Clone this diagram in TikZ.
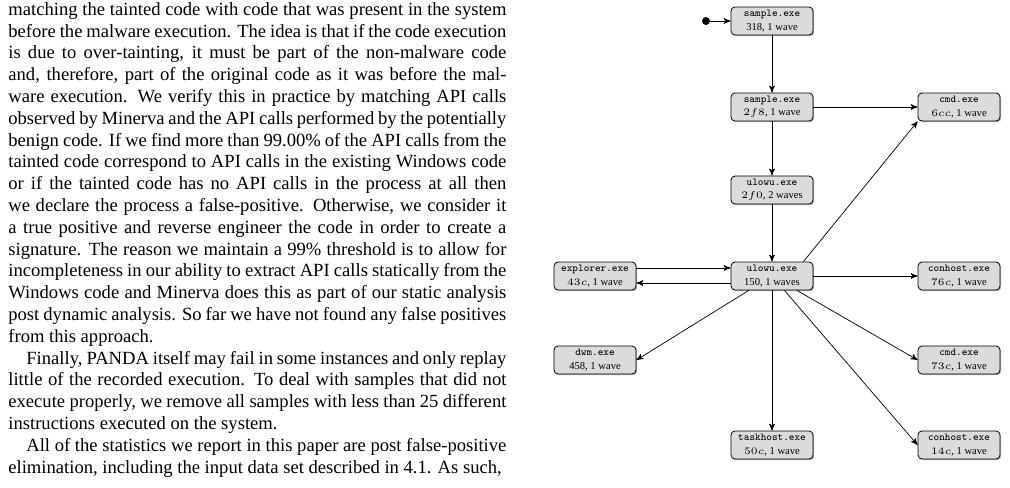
\documentclass[tikz,border=0pt]{standalone}
\usepackage{amsmath}
\usepackage{fontspec}
\setmainfont{Liberation Serif}
\usepackage{tikz}
\usetikzlibrary{positioning,shapes,shadows,arrows}

\begin{document}
\begin{tikzpicture}[x=0.5pt,y=-0.5pt]
\tikzstyle{proc}=[draw=black,rounded corners=2pt,fill=gray!28,drop shadow={shadow xshift=0.6pt,shadow yshift=-0.6pt,opacity=0.6},
  minimum width=41pt,minimum height=14pt,inner sep=0.5pt,align=center,font=\fontsize{5.3}{6.7}\selectfont]
\tikzstyle{edge}=[->,>=stealth',line width=0.35pt]
\clip (0,0) rectangle (1010,487);
% text column
\node [anchor=north west,inner sep=0pt,text width=249pt,align=justify,font=\fontsize{9.3}{10.9}\selectfont] (body) at (8,2) {%
matching the tainted code with code that was present in the system\linebreak
before the malware execution. The idea is that if the code execution\linebreak
is due to over-tainting, it must be part of the non-malware code\linebreak
and, therefore, part of the original code as it was before the mal-\linebreak
ware execution. We verify this in practice by matching API calls\linebreak
observed by Minerva and the API calls performed by the potentially\linebreak
benign code. If we find more than 99.00\% of the API calls from the\linebreak
tainted code correspond to API calls in the existing Windows code\linebreak
or if the tainted code has no API calls in the process at all then\linebreak
we declare the process a false-positive. Otherwise, we consider it\linebreak
a true positive and reverse engineer the code in order to create a\linebreak
signature. The reason we maintain a 99\% threshold is to allow for\linebreak
incompleteness in our ability to extract API calls statically from the\linebreak
Windows code and Minerva does this as part of our static analysis\linebreak
post dynamic analysis. So far we have not found any false positives\linebreak
from this approach.\par
\hspace*{9pt}Finally, PANDA itself may fail in some instances and only replay\linebreak
little of the recorded execution. To deal with samples that did not\linebreak
execute properly, we remove all samples with less than 25 different\linebreak
instructions executed on the system.\par
\hspace*{9pt}All of the statistics we report in this paper are post false-positive\linebreak
elimination, including the input data set described in 4.1. As such,\par};
% processes
\node [proc] (sample1) at (772,21) {\texttt{sample.exe}\\318, 1 wave};
\node [proc] (sample2) at (772,107) {\texttt{sample.exe}\\$2f8$, 1 wave};
\node [proc] (cmd1) at (959,107) {\texttt{cmd.exe}\\$6cc$, 1 wave};
\node [proc] (ulowu1) at (772,190) {\texttt{ulowu.exe}\\$2f0$, 2 waves};
\node [proc] (ulowu2) at (772,276) {\texttt{ulowu.exe}\\150, 1 waves};
\node [proc] (explorer) at (595,276) {\texttt{explorer.exe}\\$43c$, 1 wave};
\node [proc] (conhost1) at (959,276) {\texttt{conhost.exe}\\$76c$, 1 wave};
\node [proc] (dwm) at (595,360) {\texttt{dwm.exe}\\458, 1 wave};
\node [proc] (cmd2) at (959,360) {\texttt{cmd.exe}\\$73c$, 1 wave};
\node [proc] (taskhost) at (772,445) {\texttt{taskhost.exe}\\$50c$, 1 wave};
\node [proc] (conhost2) at (959,445) {\texttt{conhost.exe}\\$14c$, 1 wave};
\coordinate (start) at (706,21);
\fill (start) circle (2pt);
\draw [edge] (start) -- (sample1);
\draw [edge] (sample1) -- (sample2);
\draw [edge] (sample2) -- (cmd1);
\draw [edge] (sample2) -- (ulowu1);
\draw [edge] (ulowu1) -- (ulowu2);
\draw [edge] (explorer.east|-0,268) -- (ulowu2.west|-0,268);
\draw [edge] (ulowu2.west|-0,283) -- (explorer.east|-0,283);
\draw [edge] (ulowu2) -- (conhost1);
\draw [edge] (ulowu2.north east) ++(-10,0) -- (cmd1.south west);
\draw [edge] (ulowu2) -- (dwm.east);
\draw [edge] (ulowu2) -- (taskhost);
\draw [edge] (ulowu2) -- (cmd2.west);
\draw [edge] (ulowu2) -- (conhost2.west);
\end{tikzpicture}
\end{document}
